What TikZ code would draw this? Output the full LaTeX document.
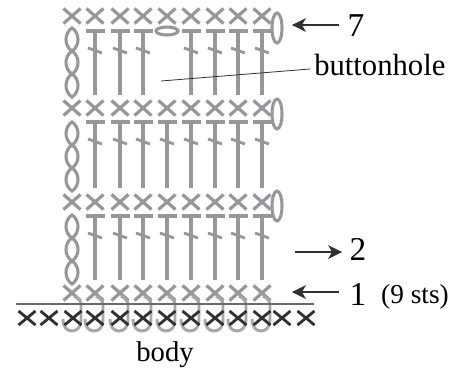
\documentclass[tikz,border=0pt]{standalone}
\usepackage{fontspec}
\setmainfont{Liberation Serif}
\definecolor{stitch}{HTML}{96979B}
\definecolor{ink}{HTML}{342E30}
\tikzset{
  gx/.style={draw=stitch,line width=2.4},
  dx/.style={draw=ink,line width=2.1},
  chainlink/.style={draw=stitch,line width=2.3},
  hook/.style={draw=stitch!85,line width=2.2},
  stem/.style={draw=stitch,line width=3.2},
  dash stroke/.style={draw=stitch,line width=2.1},
  leader/.style={draw=ink,line width=0.6},
  pointer/.style={draw=ink,line width=1.4},
  tip/.style={fill=ink,draw=none},
  lbl/.style={inner sep=0,anchor=base,text=black},
  lblw/.style={inner sep=0,anchor=base west,text=black}
}
\begin{document}
\begin{tikzpicture}[x=0.75pt,y=-0.75pt]
\useasboundingbox (0,0) rectangle (459,372);
\fill[white] (0,0) rectangle (459,372);
\foreach \y in {16,108,202,293}{
  \foreach \x in {72,95,120,143,167,191,215,238,262}{
    \draw[gx] (\x-8.5,\y-7.5)--(\x+8.5,\y+7.5) (\x-8.5,\y+7.5)--(\x+8.5,\y-7.5);
  }
}
\foreach \top/\bot in {31/95,122/188,216/280}{
  \foreach \x in {95,120,143,191,215,238,262}{
    \draw[stem] (\x-9.5,\top)--(\x+9.5,\top) (\x,\top)--(\x,\bot);
    \draw[dash stroke] (\x-7,\top+17)--(\x+7,\top+22);
  }
}
\foreach \top/\bot in {122/188,216/280}{
  \draw[stem] (167-9.5,\top)--(167+9.5,\top) (167,\top)--(167,\bot);
  \draw[dash stroke] (167-7,\top+17)--(167+7,\top+22);
}
\draw[chainlink] (167,31) ellipse (11 and 4);
\foreach \a in {28,122,215}{
  \foreach \k in {0,1,2}{
    \draw[chainlink] (72,\a+\k*23) .. controls (64,\a+\k*23+5) and (64,\a+\k*23+18) .. (72,\a+\k*23+23)
      .. controls (80,\a+\k*23+18) and (80,\a+\k*23+5) .. cycle;
  }
}
\foreach \y in {31,122,216}{
  \draw[stem] (262,\y)--(272,\y);
}
\draw[chainlink] (277,28) ellipse (5 and 15);
\draw[chainlink] (277,114) ellipse (5 and 15);
\draw[chainlink] (277,206) ellipse (5 and 15);
\foreach \x in {73,95,120,143,167,191,215,238,262}{
  \draw[hook] (\x+1,296) .. controls (\x+6,299) and (\x+8,301) .. (\x+8,305)
     -- (\x+8,320) .. controls (\x+8,327) and (\x+4,331) .. (\x-1,331)
     .. controls (\x-6,331) and (\x-10,327) .. (\x-10,319);
}
\draw[draw=stitch!70!black,line width=0.9] (16,304)--(314,304);
\foreach \x in {27,49,73,95,120,143,167,191,215,238,262,282,306}{
  \draw[dx] (\x-8.5,311)--(\x+8.5,325) (\x-8.5,325)--(\x+8.5,311);
}
\coordinate (a7s) at (339,25);
\coordinate (a7e) at (293,25);
\coordinate (a2s) at (295,252);
\coordinate (a2e) at (341,252);
\coordinate (a1s) at (339,292);
\coordinate (a1e) at (293,292);
\draw[pointer] (a7s)--(a7e);
\fill[tip] (a7e)++(-1,0)--++(14,-7)--++(-4,7)--++(4,7)--cycle;
\draw[pointer] (a1s)--(a1e);
\fill[tip] (a1e)++(-1,0)--++(14,-7)--++(-4,7)--++(4,7)--cycle;
\draw[pointer] (a2s)--(a2e);
\fill[tip] (a2e)++(1,0)--++(-14,-7)--++(4,7)--++(-4,7)--cycle;
\node[lbl,font=\fontsize{25}{27}\selectfont] (n7) at (356,36) {7};
\node[lbl,font=\fontsize{25}{27}\selectfont] (n2) at (358,260) {2};
\node[lbl,font=\fontsize{25}{27}\selectfont] (n1) at (358,305) {1};
\node[lbl,font=\fontsize{20.5}{22}\selectfont] (sts) at (415,303) {(9 sts)};
\node[lblw,font=\fontsize{23}{25}\selectfont] (bh) at (314,75) {buttonhole};
\node[lbl,font=\fontsize{21.5}{24}\selectfont] (body) at (165,361) {body};
\coordinate (lh) at (161,81);
\coordinate (le) at (310,69);
\draw[leader] (lh)--(le);
\end{tikzpicture}
\end{document}
